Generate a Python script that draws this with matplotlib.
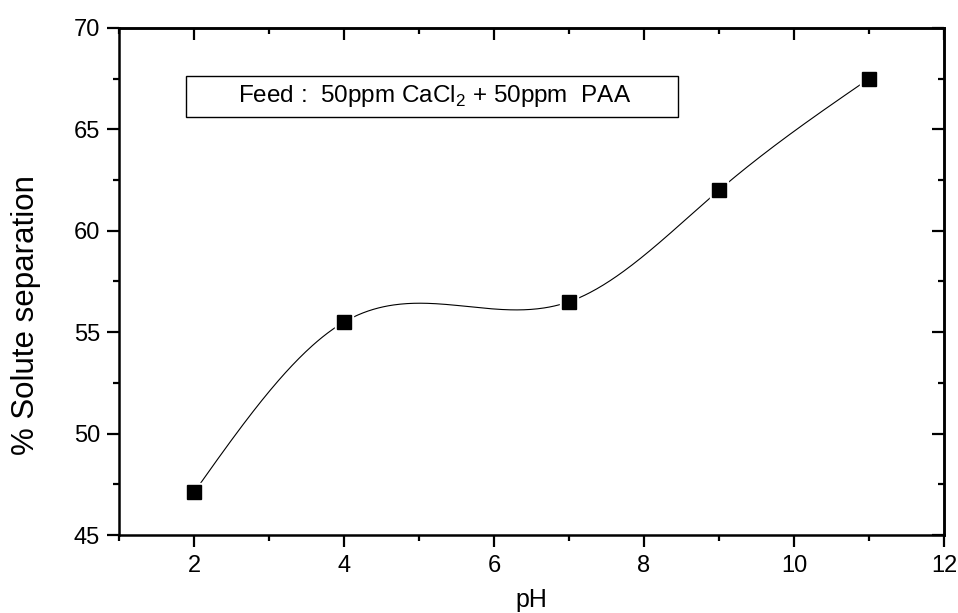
import numpy as np
import matplotlib
matplotlib.use("Agg")
import matplotlib.pyplot as plt
from matplotlib.patches import Rectangle
from matplotlib.ticker import MultipleLocator

# Data
ph = [2, 4, 7, 9, 11]
separation = [47.1, 55.5, 56.5, 62.0, 67.5]
xticks = [2, 4, 6, 8, 10, 12]
yticks = [45, 50, 55, 60, 65, 70]
xlabel = "pH"
ylabel = "% Solute separation"
annotation = "Feed :  50ppm CaCl$_2$ + 50ppm  PAA"


def natural_cubic_spline(x, y, xs):
    x = np.asarray(x, float)
    y = np.asarray(y, float)
    n = len(x)
    h = np.diff(x)
    A = np.zeros((n, n))
    b = np.zeros(n)
    A[0, 0] = 1
    A[-1, -1] = 1
    for i in range(1, n - 1):
        A[i, i - 1] = h[i - 1]
        A[i, i] = 2 * (h[i - 1] + h[i])
        A[i, i + 1] = h[i]
        b[i] = 3 * ((y[i + 1] - y[i]) / h[i] - (y[i] - y[i - 1]) / h[i - 1])
    c = np.linalg.solve(A, b)
    out = np.empty_like(xs)
    for k, xv in enumerate(xs):
        i = min(max(np.searchsorted(x, xv) - 1, 0), n - 2)
        dx = xv - x[i]
        bi = (y[i + 1] - y[i]) / h[i] - h[i] * (2 * c[i] + c[i + 1]) / 3
        di = (c[i + 1] - c[i]) / (3 * h[i])
        out[k] = y[i] + bi * dx + c[i] * dx ** 2 + di * dx ** 3
    return out


plt.rcParams['font.family'] = ['Liberation Sans', 'DejaVu Sans']
plt.rcParams['mathtext.fontset'] = 'custom'
plt.rcParams['mathtext.rm'] = 'Liberation Sans'

fig = plt.figure(figsize=(9.58, 6.13), dpi=100)
ax = fig.add_axes([119 / 958, 1 - 535 / 613, 825 / 958, 507 / 613])

xs = np.linspace(min(ph), max(ph), 400)
ys = natural_cubic_spline(ph, separation, xs)
ax.plot(xs, ys, color='black', lw=0.8, zorder=2)
ax.plot(ph, separation, ls='none', marker='s', ms=13, mfc='white', mec='white', zorder=3)
ax.plot(ph, separation, ls='none', marker='s', ms=9.5, mfc='black', mec='black', zorder=4)

ax.set_xlim(1, 12)
ax.set_ylim(45, 70)
ax.set_xticks(xticks)
ax.set_yticks(yticks)
ax.xaxis.set_minor_locator(MultipleLocator(1))
ax.yaxis.set_minor_locator(MultipleLocator(2.5))

for s in ax.spines.values():
    s.set_linewidth(1.8)

ax.tick_params(which='both', direction='out', width=1.6, top=False, right=False,
               labelsize=17)
ax.tick_params(which='major', length=8.6, pad=5)
ax.tick_params(which='minor', length=4.3)
ax.tick_params(axis='x', which='major', pad=6)

# inward ticks on top and right
ax2 = ax.secondary_xaxis('top')
ax2.set_xticks(xticks)
ax2.xaxis.set_minor_locator(MultipleLocator(1))
ax2.tick_params(which='both', direction='in', width=1.6, labeltop=False)
ax2.tick_params(which='major', length=8.6)
ax2.tick_params(which='minor', length=4.3)
ax3 = ax.secondary_yaxis('right')
ax3.set_yticks(yticks)
ax3.yaxis.set_minor_locator(MultipleLocator(2.5))
ax3.tick_params(which='both', direction='in', width=1.6, labelright=False)
ax3.tick_params(which='major', length=8.6)
ax3.tick_params(which='minor', length=4.3)
for a in (ax2, ax3):
    for s in a.spines.values():
        s.set_linewidth(1.8)

ax.set_xlabel(xlabel, fontsize=18, va='baseline')
ax.set_ylabel(ylabel, fontsize=22.5)
ax.xaxis.set_label_coords(0.5, (535 - 606.7) / 507)
ax.yaxis.set_label_coords(-0.095, (535 - 315.5) / 507)

ax.add_patch(Rectangle((0.0812, 0.8245), 0.6776 - 0.0812, 0.905 - 0.8245,
                       transform=ax.transAxes, fill=False, lw=1.0, ec='black', zorder=5))
ax.text((238 - 119) / 825, (535 - 101.7) / 507, annotation, transform=ax.transAxes,
        fontsize=17.5, ha='left', va='baseline', zorder=6)

fig.savefig("out.png", dpi=100)
